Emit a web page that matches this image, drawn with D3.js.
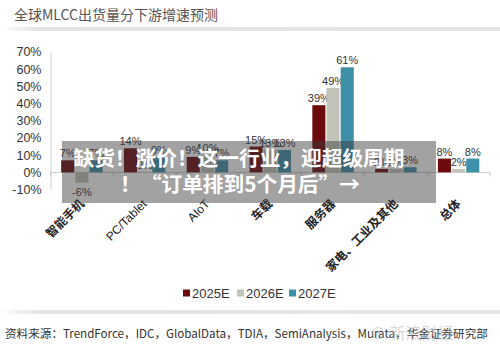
<!DOCTYPE html>
<html><head><meta charset="utf-8">
<script src="https://cdn.jsdelivr.net/npm/d3@7"></script>
<style>
html,body{margin:0;padding:0;background:#fff;}
svg{display:block;font-family:"Liberation Sans","Noto Sans CJK SC",Arial,sans-serif;}
</style></head>
<body>
<svg id="c" width="500" height="345"></svg>
<script>
const categories = ["智能手机","PC/Tablet","AIoT","车载","服务器","家电、工业及其他","总体"];
const seriesNames = ["2025E","2026E","2027E"];
const v2025 = [7, 14, 9, 15, 39, 2, 8];
const v2026 = [-6, 0, 10, 13, 49, 2, 2];
const v2027 = [7, 9, 7, 13, 61, 3, 8];
const yTicks = [-10,0,10,20,30,40,50,60,70];
const colors = ["#6b0b0e","#c3c3b9","#3e8fa8"];
const title = "全球MLCC出货量分下游增速预测";
const source = "资料来源：TrendForce，IDC，GlobalData，TDIA，SemiAnalysis，Murata，华金证券研究部";
const bannerLines = ["缺货！涨价！这一行业，迎超级周期","！“订单排到5个月后”→"];

const series = [v2025, v2026, v2027];
const svg = d3.select("#c");
const defs = svg.append("defs");
const g1 = defs.append("linearGradient").attr("id","sh").attr("x1","0").attr("x2","1").attr("y1","0").attr("y2","0");
g1.append("stop").attr("offset","0").attr("stop-color","#fff");
g1.append("stop").attr("offset","0.08").attr("stop-color","#e2e2e2");
g1.append("stop").attr("offset","1").attr("stop-color","#e6e6e6");

// title
svg.append("text").attr("x",14).attr("y",20).attr("font-size",14).attr("fill","#555")
  .attr("font-family","'Noto Sans CJK SC',sans-serif").text(title);
svg.append("rect").attr("x",0).attr("y",27).attr("width",500).attr("height",4).attr("fill","url(#sh)");
svg.append("rect").attr("x",0).attr("y",310).attr("width",500).attr("height",4).attr("fill","url(#sh)");

const y = d3.scaleLinear().domain([-10,70]).range([189.6,51.8]);
const x0 = d3.scaleBand().domain(categories).range([50.5,490]).paddingInner(0.34).paddingOuter(0.17);
const x1 = d3.scaleBand().domain(seriesNames).range([0,x0.bandwidth()]).paddingInner(0.08);

// y axis
const yAxis = svg.append("g").attr("transform","translate(50.5,0)")
  .call(d3.axisLeft(y).tickValues(yTicks).tickFormat(d=>d+"%").tickSize(0).tickPadding(9));
yAxis.select(".domain").attr("stroke","#d0d0d0");
yAxis.selectAll("text").attr("font-size",12.5).attr("fill","#333").attr("font-family","'Liberation Sans',Arial,sans-serif");

// x axis at zero
const step = x0.step();
const xAxis = svg.append("g").attr("transform",`translate(0,${y(0)})`);
xAxis.append("line").attr("x1",50.5).attr("x2",490).attr("stroke","#c8c8c8");
xAxis.selectAll("line.t").data(d3.range(categories.length+1)).join("line").attr("class","t")
  .attr("x1",d=>50.5+d*step).attr("x2",d=>50.5+d*step).attr("y1",0).attr("y2",4).attr("stroke","#c8c8c8");

// bars
const groups = svg.append("g").selectAll("g").data(categories).join("g")
  .attr("transform",d=>`translate(${x0(d)},0)`);
groups.each(function(cat,i){
  const g = d3.select(this);
  seriesNames.forEach((s,j)=>{
    const v = series[j][i];
    g.append("rect").attr("x",x1(s)).attr("width",x1.bandwidth())
      .attr("y",y(Math.max(0,v))).attr("height",Math.max(0,Math.abs(y(v)-y(0))))
      .attr("fill",colors[j]);
    g.append("text").attr("x",x1(s)+x1.bandwidth()/2)
      .attr("y", v>=0 ? y(v)-3 : y(v)+13)
      .attr("text-anchor","middle").attr("font-size",11).attr("fill","#333")
      .attr("font-family","'Liberation Sans',Arial,sans-serif").text(v+"%");
  });
});

// category labels
svg.append("g").selectAll("text").data(categories).join("text")
  .attr("transform",d=>`translate(${x0(d)+x0.bandwidth()/2+3},${y(-10)+15}) rotate(-45)`)
  .attr("text-anchor","end").attr("font-size",12).attr("fill","#222")
  .attr("font-family","'Liberation Sans','Noto Sans CJK SC',sans-serif")
  .attr("font-weight",d=>/[A-Za-z]/.test(d)?400:700)
  .text(d=>d);

// legend
const legX = [183,237,289];
const leg = svg.append("g").selectAll("g").data(seriesNames).join("g")
  .attr("transform",(d,i)=>`translate(${legX[i]},293)`);
leg.append("rect").attr("x",0).attr("y",-3.5).attr("width",7).attr("height",7).attr("fill",(d,i)=>colors[i]);
leg.append("text").attr("x",9).attr("y",4.5).attr("font-size",13).attr("fill","#333")
  .attr("font-family","'Liberation Sans',Arial,sans-serif").text(d=>d);

// source
svg.append("text").attr("x",5).attr("y",338).attr("font-size",11.6).attr("fill","#333")
  .attr("font-family","'Noto Sans CJK SC',sans-serif").text(source);
// watermark
svg.append("text").attr("x",370).attr("y",339).attr("font-size",16).attr("fill","rgba(175,175,175,0.5)")
  .attr("font-family","'Noto Sans CJK SC',sans-serif").text("⊕ 新浪财经");

// banner overlay
svg.append("rect").attr("x",62).attr("y",141).attr("width",374).attr("height",62)
  .attr("fill","rgba(60,60,60,0.48)");
svg.append("g").selectAll("text").data(bannerLines).join("text")
  .attr("x",(d,i)=>i===0?239:240).attr("y",(d,i)=>i===0?166:192)
  .attr("text-anchor","middle").attr("font-size",20.7).attr("font-weight",700).attr("fill","#fff")
  .attr("font-family","'Noto Sans CJK SC',sans-serif").text(d=>d);
</script>
</body></html>
